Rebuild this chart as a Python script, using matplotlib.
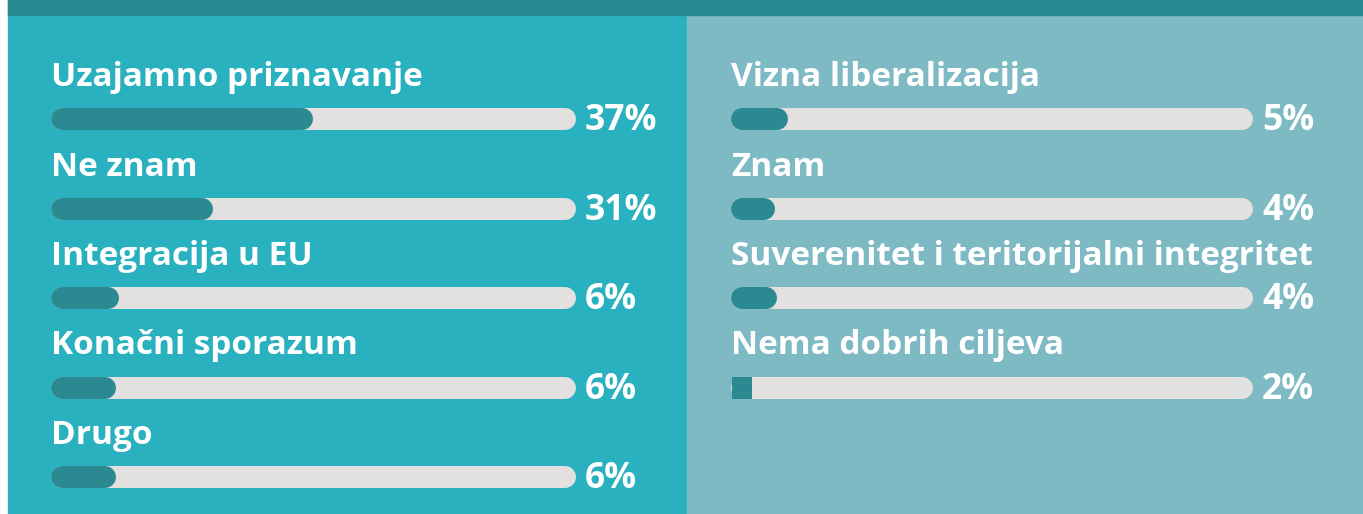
import matplotlib
matplotlib.use("Agg")
import matplotlib.pyplot as plt
from matplotlib.patches import Rectangle

# ---- data ----
left_labels = ["Uzajamno priznavanje", "Ne znam", "Integracija u EU", "Konačni sporazum", "Drugo"]
left_values = [37, 31, 6, 6, 6]
# filled share of each track as drawn in the picture (0-100 of track length)
left_fill = [49.9, 30.9, 13.0, 12.4, 12.4]

right_labels = ["Vizna liberalizacija", "Znam", "Suverenitet i teritorijalni integritet", "Nema dobrih ciljeva"]
right_values = [5, 4, 4, 2]
right_fill = [10.9, 8.4, 8.8, 3.8]

# ---- style ----
W, H = 1363, 514
DPI = 100
C_TOP = "#2a8a92"
C_LEFT = "#2ab1bf"
C_RIGHT = "#7ebac4"
C_TRACK = "#e2e1e0"
C_FILL = "#2b8a91"
FONT = "Open Sans"

fig = plt.figure(figsize=(W / DPI, H / DPI), dpi=DPI, facecolor="white")

def fx(px):
    return px / W

def fy(py):
    return 1 - py / H

# background panels
for rect in [
    Rectangle((fx(8), 0), fx(687 - 8), 1, color=C_LEFT),
    Rectangle((fx(687), 0), fx(W - 687), 1, color=C_RIGHT),
    Rectangle((fx(8), fy(15)), fx(W - 8), 15 / H, color=C_TOP),
]:
    rect.set_transform(fig.transFigure)
    rect.set_zorder(-10)
    fig.patches.append(rect)

BAR_PX = 22          # bar thickness in pixels
ROW_PX = 89.5        # spacing of rows in pixels
ROW0_PX = 119        # centre of first bar
AX_TOP, AX_BOT = 60, 500

def panel(x0, x1, labels, values, fills):
    ax = fig.add_axes([fx(x0), fy(AX_BOT), fx(x1 - x0), (AX_BOT - AX_TOP) / H])
    ax.set_zorder(5)
    ax.set_xlim(0, 100)
    ax.set_ylim((AX_BOT - ROW0_PX) / ROW_PX, (AX_TOP - ROW0_PX) / ROW_PX)
    ax.axis("off")
    ax.patch.set_alpha(0)
    lw = BAR_PX * 72 / DPI
    cap = (BAR_PX / 2) / (x1 - x0) * 100  # half thickness in data units
    for i, (lab, val, f) in enumerate(zip(labels, values, fills)):
        ax.plot([cap, 100 - cap], [i, i], color=C_TRACK, lw=lw,
                solid_capstyle="round", zorder=2)
        if f > 2 * cap:
            ax.plot([cap, f - cap], [i, i], color=C_FILL, lw=lw,
                    solid_capstyle="round", zorder=3)
        else:
            ax.barh(i, f, height=BAR_PX / ROW_PX, left=0.25, color=C_FILL, zorder=3)
        ax.text(0, i - 33 / ROW_PX, lab, color="white", fontsize=24,
                fontweight="bold", family=FONT, va="baseline", ha="left")
        ax.text(100 + 9 / (x1 - x0) * 100, i + 11 / ROW_PX, f"{val}%", color="white",
                fontsize=25.5, fontweight="bold", family=FONT, va="baseline", ha="left",
                clip_on=False)
    return ax

panel(51, 576, left_labels, left_values, left_fill)
panel(731, 1253, right_labels, right_values, right_fill)

fig.savefig("out.png", dpi=DPI, facecolor="white")
